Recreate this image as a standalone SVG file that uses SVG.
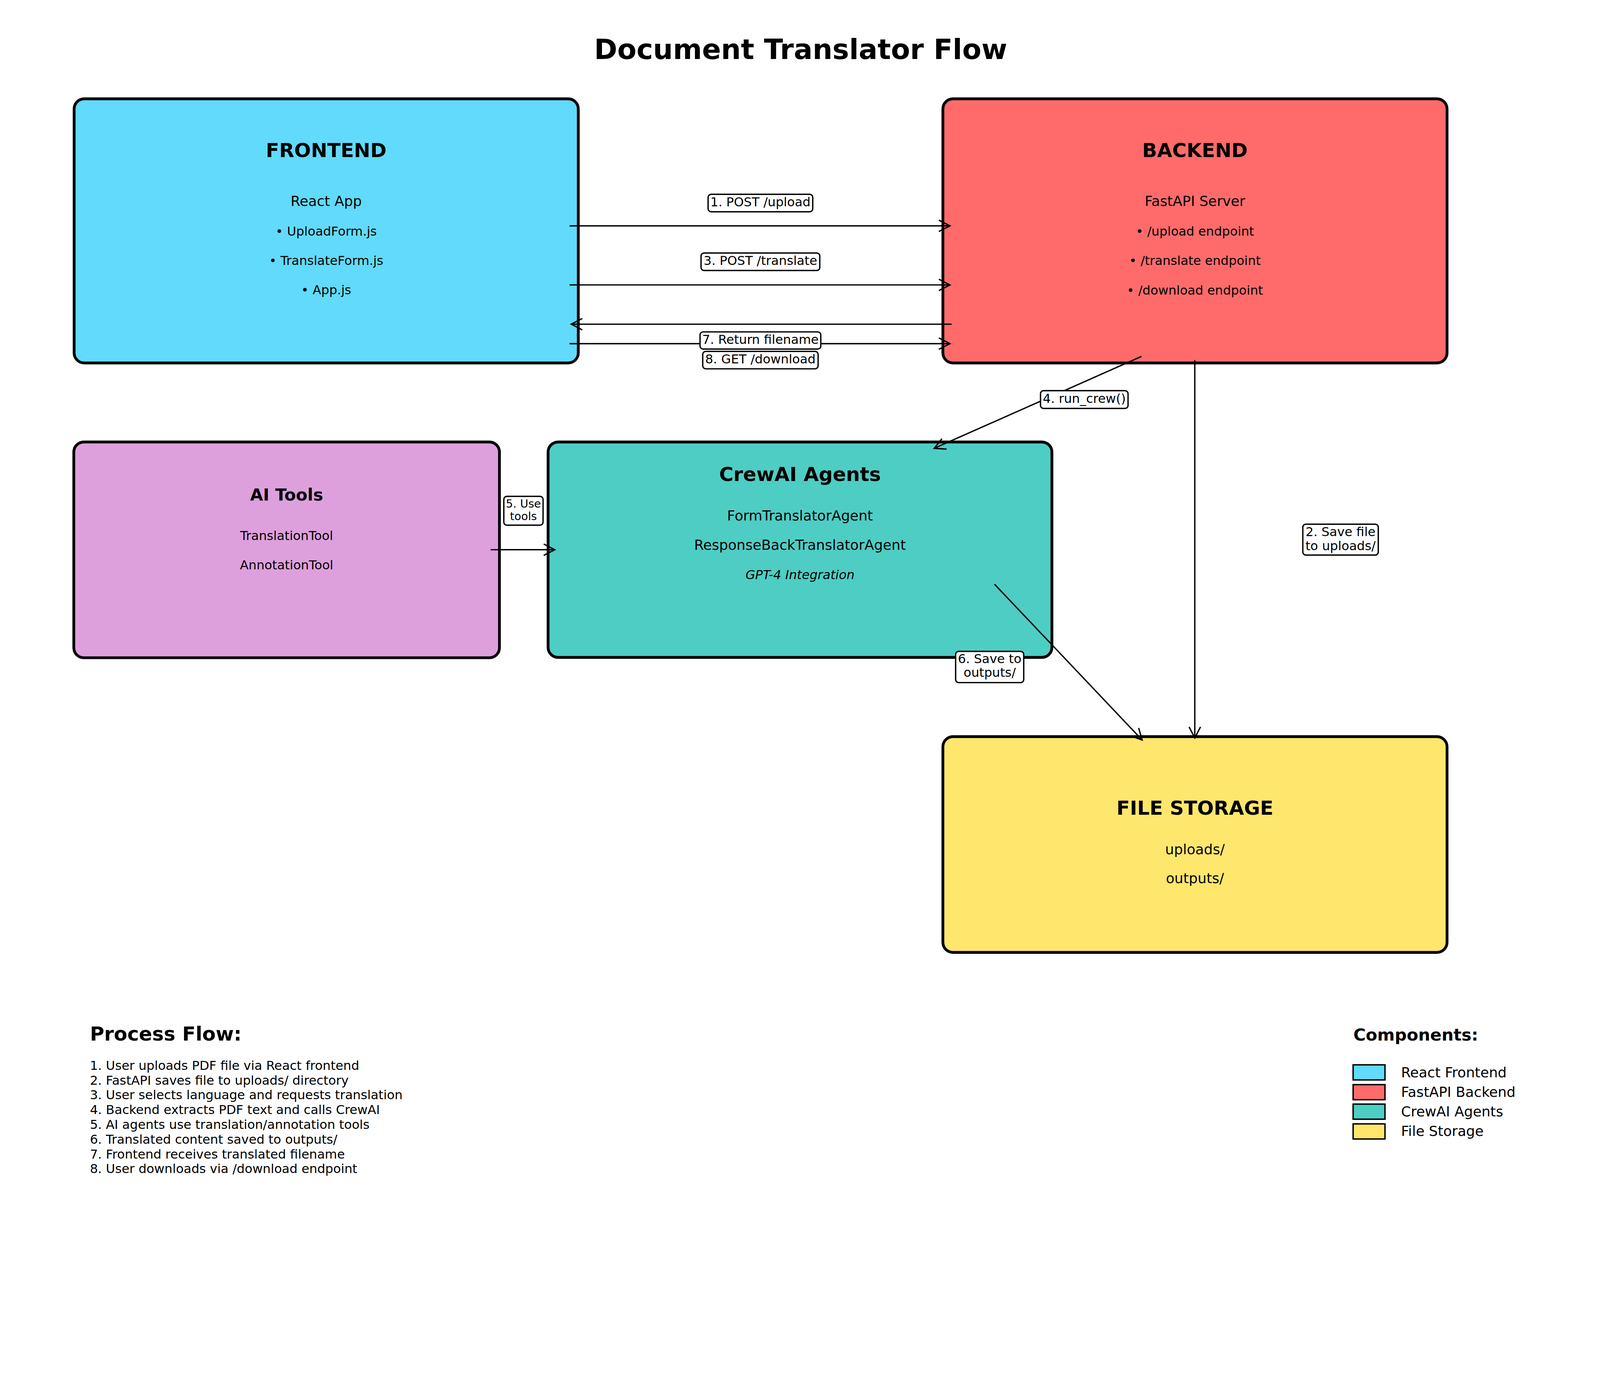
<svg xmlns="http://www.w3.org/2000/svg" width="4770" height="3570" viewBox="0 0 4770 3570">
<defs>
<style>
:root{width:100vw;height:74.8428vw}
text{font-family:"DejaVu Sans","Liberation Sans",sans-serif;fill:#000}
.title{font-size:83.3px;font-weight:bold;text-anchor:middle}
.h{font-size:58.3px;font-weight:bold;text-anchor:middle}
.h2{font-size:50px;font-weight:bold;text-anchor:middle}
.sub{font-size:41.7px;text-anchor:middle}
.item{font-size:37.5px;text-anchor:middle}
.it{font-size:37.5px;font-style:italic;text-anchor:middle}
.box{stroke:#000;stroke-width:8.3}
.conn{stroke:#000;stroke-width:4;fill:none;marker-end:url(#arr)}
.lbl{fill:#fff;stroke:#000;stroke-width:4}
.lt{font-size:37.5px;text-anchor:middle}
.lt8{font-size:33.3px;text-anchor:middle}
.leg{stroke:#000;stroke-width:4.2}
</style>
<marker id="arr" markerUnits="userSpaceOnUse" viewBox="-40 -22 46 44" markerWidth="46" markerHeight="44" refX="0" refY="0" orient="auto" overflow="visible">
<path d="M-33,-17 L0,0 L-33,17" fill="none" stroke="#000" stroke-width="4"/>
</marker>
</defs>
<rect width="4770" height="3570" fill="#fff"/>
<text class="title" x="2387" y="176">Document Translator Flow</text>

<g id="frontend">
<rect class="box" x="221" y="294.5" width="1503" height="787" rx="30" fill="#61DAFB"/>
<text class="h" x="972.5" y="468">FRONTEND</text>
<text class="sub" x="972.5" y="614">React App</text>
<text class="item" x="972.5" y="702">• UploadForm.js</text>
<text class="item" x="972.5" y="790">• TranslateForm.js</text>
<text class="item" x="972.5" y="877">• App.js</text>
</g>

<g id="backend">
<rect class="box" x="2811" y="294.5" width="1503" height="787" rx="30" fill="#FF6B6B"/>
<text class="h" x="3562.5" y="468">BACKEND</text>
<text class="sub" x="3562.5" y="614">FastAPI Server</text>
<text class="item" x="3562.5" y="702">• /upload endpoint</text>
<text class="item" x="3562.5" y="790">• /translate endpoint</text>
<text class="item" x="3562.5" y="878">• /download endpoint</text>
</g>

<g id="ai-tools">
<rect class="box" x="220" y="1317" width="1269" height="643" rx="30" fill="#DDA0DD"/>
<text class="h2" x="854.5" y="1492">AI Tools</text>
<text class="item" x="854.5" y="1609">TranslationTool</text>
<text class="item" x="854.5" y="1697">AnnotationTool</text>
</g>

<g id="crewai">
<rect class="box" x="1634" y="1317" width="1502" height="642" rx="30" fill="#4ECDC4"/>
<text class="h" x="2385" y="1433">CrewAI Agents</text>
<text class="sub" x="2385" y="1551">FormTranslatorAgent</text>
<text class="sub" x="2385" y="1638">ResponseBackTranslatorAgent</text>
<text class="it" x="2385" y="1726">GPT-4 Integration</text>
</g>

<g id="file-storage">
<rect class="box" x="2811" y="2195" width="1503" height="643" rx="30" fill="#FFE66D"/>
<text class="h" x="3562.5" y="2428">FILE STORAGE</text>
<text class="sub" x="3562.5" y="2545">uploads/</text>
<text class="sub" x="3562.5" y="2632">outputs/</text>
</g>

<g id="connectors">
<line class="conn" x1="1698" y1="673" x2="2832" y2="673"/>
<line class="conn" x1="1698" y1="849" x2="2832" y2="849"/>
<line class="conn" x1="2837" y1="966" x2="1703" y2="966"/>
<line class="conn" x1="1698" y1="1024" x2="2832" y2="1024"/>
<line class="conn" x1="3403" y1="1062" x2="2785" y2="1336"/>
<line class="conn" x1="3562" y1="1073" x2="3562" y2="2199"/>
<line class="conn" x1="1463" y1="1638" x2="1654" y2="1638"/>
<line class="conn" x1="2965" y1="1741" x2="3405" y2="2205"/>
<g id="labels">
<rect class="lbl" x="2111" y="579" width="312" height="52" rx="9"/>
<text class="lt" x="2267" y="615">1. POST /upload</text>
<rect class="lbl" x="2090" y="754" width="354" height="52" rx="9"/>
<text class="lt" x="2267" y="790">3. POST /translate</text>
<rect class="lbl" x="2087" y="989" width="360" height="51" rx="9"/>
<text class="lt" x="2267" y="1025">7. Return filename</text>
<rect class="lbl" x="2095" y="1047" width="344" height="52" rx="9"/>
<text class="lt" x="2267" y="1083">8. GET /download</text>
<rect class="lbl" x="3102" y="1164" width="261" height="53" rx="9"/>
<text class="lt" x="3232.5" y="1200">4. run_crew()</text>
<rect class="lbl" x="3884" y="1562" width="225" height="92" rx="9"/>
<text class="lt" x="3996.5" y="1598">2. Save file</text>
<text class="lt" x="3996.5" y="1639">to uploads/</text>
<rect class="lbl" x="1502" y="1479" width="117" height="86" rx="9"/>
<text class="lt8" x="1560.5" y="1512">5. Use</text>
<text class="lt8" x="1560.5" y="1550">tools</text>
<rect class="lbl" x="2849" y="1941" width="203" height="93" rx="9"/>
<text class="lt" x="2950.5" y="1976">6. Save to</text>
<text class="lt" x="2950.5" y="2017">outputs/</text>
</g>
</g>

<g id="process-flow">
<text x="268" y="3101" style="font-size:58.3px;font-weight:bold">Process Flow:</text>
<text x="268" y="3188" style="font-size:37.5px">
<tspan x="268" y="3188">1. User uploads PDF file via React frontend</tspan>
<tspan x="268" y="3232">2. FastAPI saves file to uploads/ directory</tspan>
<tspan x="268" y="3276">3. User selects language and requests translation</tspan>
<tspan x="268" y="3320">4. Backend extracts PDF text and calls CrewAI</tspan>
<tspan x="268" y="3364">5. AI agents use translation/annotation tools</tspan>
<tspan x="268" y="3408">6. Translated content saved to outputs/</tspan>
<tspan x="268" y="3452">7. Frontend receives translated filename</tspan>
<tspan x="268" y="3496">8. User downloads via /download endpoint</tspan>
</text>
</g>

<g id="legend">
<text x="4035" y="3101" style="font-size:50px;font-weight:bold">Components:</text>
<rect class="leg" x="4034" y="3173" width="95" height="45" fill="#61DAFB"/>
<rect class="leg" x="4034" y="3232" width="95" height="45" fill="#FF6B6B"/>
<rect class="leg" x="4034" y="3290" width="95" height="45" fill="#4ECDC4"/>
<rect class="leg" x="4034" y="3349" width="95" height="45" fill="#FFE66D"/>
<text x="4177" y="3210" style="font-size:41.7px">React Frontend</text>
<text x="4177" y="3269" style="font-size:41.7px">FastAPI Backend</text>
<text x="4177" y="3327" style="font-size:41.7px">CrewAI Agents</text>
<text x="4177" y="3385" style="font-size:41.7px">File Storage</text>
</g>
</svg>
